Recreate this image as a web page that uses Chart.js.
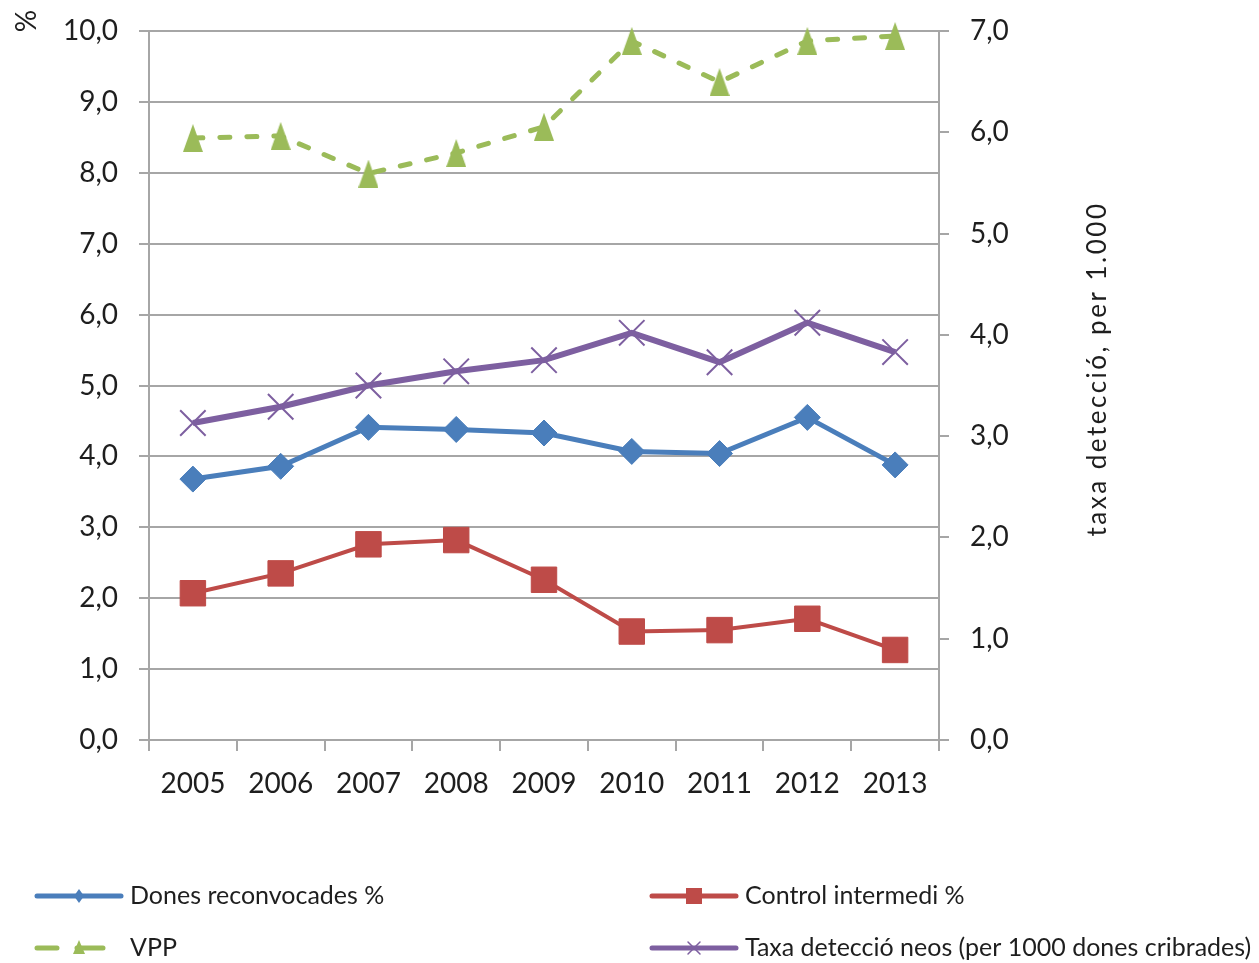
<!DOCTYPE html>
<html>
<head>
<meta charset="utf-8">
<script src="https://cdn.jsdelivr.net/npm/chart.js@4/dist/chart.umd.min.js"></script>
<style>
  html, body { margin: 0; padding: 0; background: #fff; }
  #c { display: block; }
</style>
</head>
<body>
<canvas id="c" width="1259" height="963"></canvas>
<script>
// Screening indicators by year
const years = ['2005', '2006', '2007', '2008', '2009', '2010', '2011', '2012', '2013'];
const donesReconvocades = [3.68, 3.86, 4.41, 4.38, 4.33, 4.07, 4.04, 4.55, 3.88];
const controlIntermedi  = [2.07, 2.35, 2.76, 2.82, 2.26, 1.53, 1.55, 1.71, 1.27];
const vpp               = [8.49, 8.52, 7.99, 8.28, 8.65, 9.86, 9.28, 9.86, 9.93];
const taxaDeteccio      = [3.13, 3.29, 3.50, 3.64, 3.75, 4.02, 3.73, 4.12, 3.83];

const seriesNames = [
  'Dones reconvocades %',
  'Control intermedi %',
  'VPP',
  'Taxa detecció neos (per 1000 dones cribrades)'
];
const leftAxisTitle = '%';
const rightAxisTitle = 'taxa detecció, per 1.000';
const leftAxisRange = [0, 10];
const rightAxisRange = [0, 7];

const BLUE = '#4A7EBB';
const RED = '#BE4B48';
const GREEN = '#9BBB59';
const PURPLE = '#7D5FA0';
const GRID = '#a6a6a6';
const TEXT = '#1e1e1e';
const FONT = "Lato, 'Open Sans', sans-serif";

const fmt = v => Number(v).toFixed(1).replace('.', ',');

// tall triangle marker used for the VPP series
function triangleImage(w, h, color) {
  const c = document.createElement('canvas');
  c.width = w; c.height = h;
  const g = c.getContext('2d');
  g.fillStyle = color;
  g.beginPath();
  g.moveTo(w / 2, 0);
  g.lineTo(w, h);
  g.lineTo(0, h);
  g.closePath();
  g.fill();
  return c;
}
const triMarker = triangleImage(20, 28, GREEN);

// axis titles drawn at fixed spots beside the axes
const axisTitles = {
  id: 'axisTitles',
  afterDraw(chart) {
    const ctx = chart.ctx;
    ctx.save();
    ctx.fillStyle = TEXT;
    ctx.textAlign = 'center';
    ctx.textBaseline = 'middle';
    ctx.font = '28px ' + FONT;
    ctx.translate(27, 21);
    ctx.rotate(-Math.PI / 2);
    ctx.fillText(leftAxisTitle, 0, 0);
    ctx.restore();

    ctx.save();
    ctx.fillStyle = TEXT;
    ctx.textAlign = 'center';
    ctx.textBaseline = 'middle';
    ctx.font = '26px ' + FONT;
    if ('letterSpacing' in ctx) ctx.letterSpacing = '2.5px';
    ctx.translate(1098, 369);
    ctx.rotate(-Math.PI / 2);
    ctx.fillText(rightAxisTitle, 0, 0);
    ctx.restore();
  }
};

// two-column legend below the plot
const bottomLegend = {
  id: 'bottomLegend',
  afterDraw(chart) {
    const ctx = chart.ctx;
    const items = [
      { ds: 0, x: 35, y: 896 },
      { ds: 1, x: 650, y: 896 },
      { ds: 2, x: 35, y: 948 },
      { ds: 3, x: 650, y: 948 }
    ];
    items.forEach(it => {
      const d = chart.data.datasets[it.ds];
      const x0 = it.x, x1 = it.x + 88, y = it.y;
      const mx = it.x + 44;
      ctx.save();
      ctx.strokeStyle = d.borderColor;
      ctx.lineWidth = 5;
      ctx.lineCap = 'round';
      if (it.ds === 2) {
        ctx.beginPath();
        ctx.moveTo(x0 + 2, y); ctx.lineTo(x0 + 22, y);
        ctx.moveTo(x0 + 42, y); ctx.lineTo(x1 - 20, y);
        ctx.stroke();
      } else {
        ctx.beginPath();
        ctx.moveTo(x0 + 2, y); ctx.lineTo(x1 - 2, y);
        ctx.stroke();
      }
      ctx.fillStyle = d.borderColor;
      ctx.beginPath();
      if (it.ds === 0) {
        ctx.moveTo(mx, y - 7); ctx.lineTo(mx + 5, y); ctx.lineTo(mx, y + 7); ctx.lineTo(mx - 5, y);
        ctx.closePath(); ctx.fill();
      } else if (it.ds === 1) {
        ctx.fillRect(mx - 8, y - 8, 16, 16);
      } else if (it.ds === 2) {
        const tx = x0 + 44;
        ctx.moveTo(tx, y - 8); ctx.lineTo(tx + 6, y + 6); ctx.lineTo(tx - 6, y + 6);
        ctx.closePath(); ctx.fill();
      } else {
        ctx.lineWidth = 1.5;
        ctx.beginPath();
        ctx.moveTo(mx - 6, y - 6); ctx.lineTo(mx + 6, y + 6);
        ctx.moveTo(mx + 6, y - 6); ctx.lineTo(mx - 6, y + 6);
        ctx.stroke();
      }
      ctx.fillStyle = TEXT;
      ctx.font = '25px ' + FONT;
      ctx.textAlign = 'left';
      ctx.textBaseline = 'middle';
      ctx.fillText(d.label, x1 + 7, y);
      ctx.restore();
    });
  }
};

const tickFont = { family: FONT, size: 28 };

// vertical axes: fixed width, no extra label padding above/below the plot
const fitVertical = w => s => { s.width = w; s.paddingTop = 0; s.paddingBottom = 0; };

new Chart(document.getElementById('c'), {
  type: 'line',
  data: {
    labels: years,
    datasets: [
      {
        label: seriesNames[0], data: donesReconvocades, yAxisID: 'y',
        borderColor: BLUE, backgroundColor: BLUE, borderWidth: 5,
        pointStyle: 'rectRot', pointRadius: 13, pointBorderWidth: 1,
        pointBackgroundColor: BLUE, pointBorderColor: BLUE, clip: false, tension: 0
      },
      {
        label: seriesNames[1], data: controlIntermedi, yAxisID: 'y',
        borderColor: RED, backgroundColor: RED, borderWidth: 4,
        pointStyle: 'rect', pointRadius: 18, pointBorderWidth: 1,
        pointBackgroundColor: RED, pointBorderColor: RED, clip: false, tension: 0
      },
      {
        label: seriesNames[2], data: vpp, yAxisID: 'y',
        borderColor: GREEN, backgroundColor: GREEN, borderWidth: 5,
        borderDash: [10, 17], borderCapStyle: 'round',
        pointStyle: triMarker, pointRadius: 14,
        clip: false, tension: 0
      },
      {
        label: seriesNames[3], data: taxaDeteccio, yAxisID: 'y1',
        borderColor: PURPLE, backgroundColor: PURPLE, borderWidth: 6,
        pointStyle: 'crossRot', pointRadius: 18, pointBorderWidth: 2,
        pointBackgroundColor: PURPLE, pointBorderColor: PURPLE, clip: false, tension: 0
      }
    ]
  },
  options: {
    responsive: false,
    animation: false,
    events: [],
    layout: { padding: { left: 0, right: 0, top: 31, bottom: 163 } },
    plugins: { legend: { display: false }, tooltip: { enabled: false } },
    scales: {
      x: {
        offset: true,
        grid: { offset: true, drawOnChartArea: false, drawTicks: true, tickLength: 11, color: GRID, lineWidth: 2 },
        border: { display: true, color: GRID, width: 2 },
        ticks: { font: tickFont, color: TEXT, padding: 16, maxRotation: 0, autoSkip: false },
        afterFit: s => { s.height = 60; s.paddingLeft = 0; s.paddingRight = 0; }
      },
      y: {
        position: 'left',
        min: leftAxisRange[0], max: leftAxisRange[1],
        ticks: { stepSize: 1, callback: v => fmt(v), padding: 21, font: tickFont, color: TEXT },
        grid: { color: GRID, lineWidth: 2, tickLength: 10, drawTicks: true },
        border: { display: true, color: GRID, width: 2 },
        afterFit: fitVertical(149)
      },
      y1: {
        position: 'right',
        min: rightAxisRange[0], max: rightAxisRange[1],
        ticks: { stepSize: 1, callback: v => fmt(v), padding: 21, font: tickFont, color: TEXT },
        grid: { drawOnChartArea: false, color: GRID, lineWidth: 2, tickLength: 10, drawTicks: true },
        border: { display: true, color: GRID, width: 2 },
        afterFit: fitVertical(320)
      }
    }
  },
  plugins: [axisTitles, bottomLegend]
});
</script>
</body>
</html>
